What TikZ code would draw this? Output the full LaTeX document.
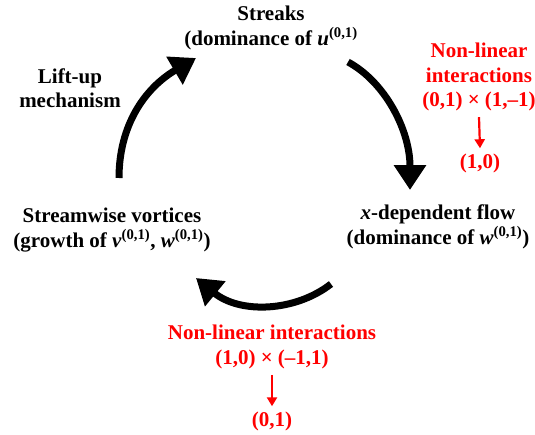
\documentclass[tikz,border=0pt]{standalone}
\usepackage{fontspec}
\setmainfont{Liberation Serif}
\usetikzlibrary{arrows.meta}
\begin{document}
\begin{tikzpicture}[x=1pt,y=-1pt,
  lbl/.style={font=\fontsize{21}{24.5}\selectfont\bfseries, align=center, inner sep=0pt},
  rlbl/.style={lbl, text=red},
  bigarrow/.style={line width=7pt, -{Triangle[length=25pt,width=31pt]}},
  redarrow/.style={red, line width=2.2pt, -{Triangle[length=9pt,width=10pt]}}]
\useasboundingbox (0,0) rectangle (535,434);
\node[lbl] (streaks) at (271,28) {Streaks\\(dominance of \textit{u}\textsuperscript{(0,1)}};
\node[lbl] (lift) at (70,88) {Lift-up\\mechanism};
\node[lbl] (vort) at (112,230) {Streamwise vortices\\(growth of \textit{v}\textsuperscript{(0,1)}, \textit{w}\textsuperscript{(0,1)})};
\node[lbl] (xdep) at (438,227) {\textit{x}-dependent flow\\(dominance of \textit{w}\textsuperscript{(0,1)})};
\node[rlbl] (nl1) at (479,77) {Non-linear\\interactions\\(0,1) × (1,–1)};
\node[rlbl] (r1) at (480,163) {(1,0)};
\node[rlbl] (nl2) at (272,347) {Non-linear interactions\\(1,0) × (–1,1)};
\node[rlbl] (r2) at (272,421) {(0,1)};
\draw[redarrow] ([yshift=-6pt]nl1.south) -- ([yshift=5pt]r1.north);
\draw[redarrow] ([yshift=-6pt]nl2.south) -- ([yshift=5pt]r2.north);
\coordinate (a1s) at (119,178);
\coordinate (a1e) at (196,58);
\coordinate (a2s) at (348,62);
\coordinate (a2e) at (410,190);
\coordinate (a3s) at (331,284);
\coordinate (a3e) at (196,278);
\draw[bigarrow] (a1s) .. controls (119,125) and (145,88) .. (a1e);
\draw[bigarrow] (a2s) .. controls (385,82) and (410,130) .. (a2e);
\draw[bigarrow] (a3s) .. controls (295,312) and (240,314) .. (a3e);
\end{tikzpicture}
\end{document}
